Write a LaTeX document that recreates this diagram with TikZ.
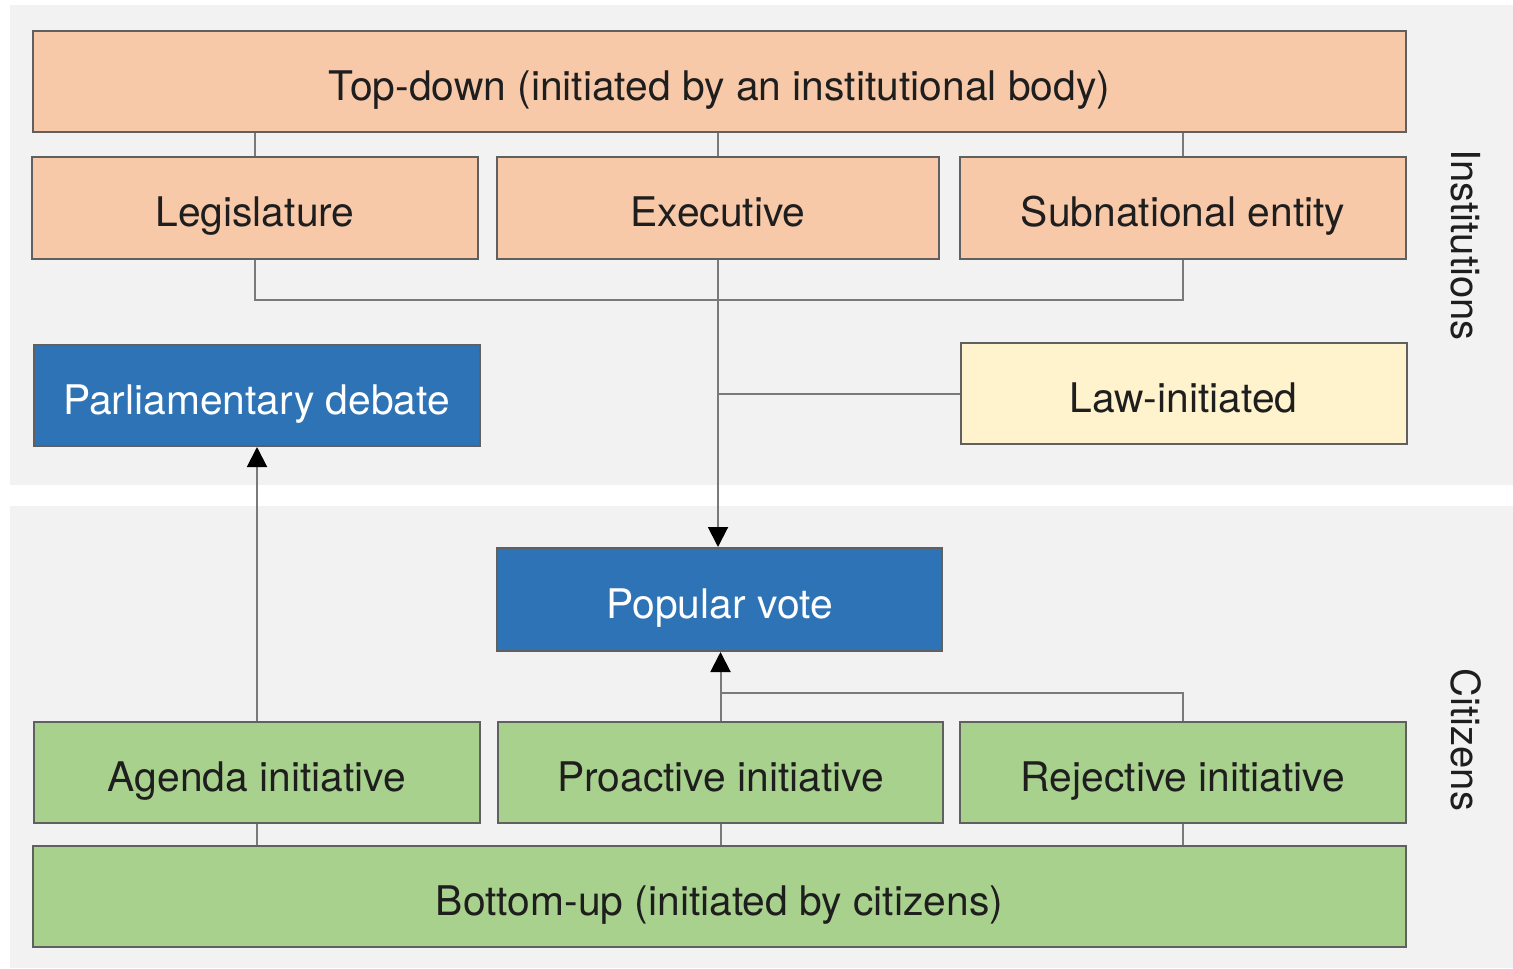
\documentclass[tikz,border=0pt]{standalone}
\usepackage{fontspec}
\setmainfont{TeX Gyre Heros}
\usetikzlibrary{arrows.meta}
\definecolor{panel}{HTML}{F2F2F2}
\definecolor{salmon}{HTML}{F8C9A9}
\definecolor{bluebox}{HTML}{2E73B5}
\definecolor{greenbox}{HTML}{A9D18E}
\definecolor{yellowbox}{HTML}{FFF3CD}
\definecolor{edge}{HTML}{606060}
\definecolor{conn}{HTML}{7A7A7A}
\definecolor{txt}{HTML}{1E1E1E}
\tikzset{
  box/.style={draw=edge, line width=1pt, rectangle, inner sep=0pt, text=txt,
    font=\fontsize{20.4}{24}\selectfont, minimum height=50.5pt,
    text height=19pt, text depth=0pt},
  wbox/.style={box, minimum width=223pt},
  bluetxt/.style={text=white},
  link/.style={draw=conn, line width=1pt},
  arr/.style={link, -{Triangle[width=10pt,length=10pt,color=black,fill=black]}},
  side/.style={font=\fontsize{20}{24}\selectfont, text=txt, rotate=-90}
}
\begin{document}
\begin{tikzpicture}[x=0.5pt,y=-0.5pt]
\useasboundingbox (0,0) rectangle (1513,968);
\fill[white] (0,0) rectangle (1513,968);
\fill[panel] (10,5) rectangle (1513,485);
\fill[panel] (10,506) rectangle (1513,968);

\node[box, fill=salmon, minimum width=686.5pt] (td) at (719.5,81.5) {Top-down (initiated by an institutional body)};
\node[wbox, fill=salmon] (leg) at (255,208) {Legislature};
\node[box, fill=salmon, minimum width=221pt] (exe) at (718,208) {Executive};
\node[wbox, fill=salmon] (sub) at (1183,208) {Subnational entity};
\node[wbox, fill=bluebox, bluetxt] (par) at (256.5,395.5) {Parliamentary debate};
\node[wbox, fill=yellowbox] (law) at (1183.5,393.5) {Law-initiated};
\node[box, fill=bluebox, bluetxt, minimum width=222.5pt, minimum height=51.5pt] (pop) at (719.5,599.5) {Popular vote};
\node[wbox, fill=greenbox] (agd) at (257,772) {Agenda initiative};
\node[box, fill=greenbox, minimum width=222.5pt] (pro) at (720.5,772) {Proactive initiative};
\node[wbox, fill=greenbox] (rej) at (1183,772) {Rejective initiative};
\node[box, fill=greenbox, minimum width=686.5pt] (bot) at (719.5,896.5) {Bottom-up (initiated by citizens)};

\node[side] (inst) at (1466,245) {Institutions};
\node[side] (cit) at (1466,740) {Citizens};

\coordinate (br) at (0,300);
\coordinate (rj) at (0,693);

% top-down to the three institutions
\draw[link] (td.south -| leg.north) -- (leg.north);
\draw[link] (td.south -| exe.north) -- (exe.north);
\draw[link] (td.south -| sub.north) -- (sub.north);
% bracket below institutions
\draw[link] (leg.south) -- (leg.south |- br) -- (sub.south |- br) -- (sub.south);
% executive down to popular vote
\draw[arr] (exe.south) -- (exe.south |- pop.north);
% law-initiated joins the vertical line
\draw[link] (law.west) -- (law.west -| exe.south);
% agenda initiative to parliamentary debate
\draw[arr] (agd.north) -- (agd.north |- par.south);
% proactive and rejective to popular vote
\draw[arr] (pro.north) -- (pro.north |- pop.south);
\draw[link] (rej.north) -- (rej.north |- rj) -- (pro.north |- rj);
% bottom-up to citizen initiatives
\draw[link] (bot.north -| agd.south) -- (agd.south);
\draw[link] (bot.north -| pro.south) -- (pro.south);
\draw[link] (bot.north -| rej.south) -- (rej.south);
\end{tikzpicture}
\end{document}
